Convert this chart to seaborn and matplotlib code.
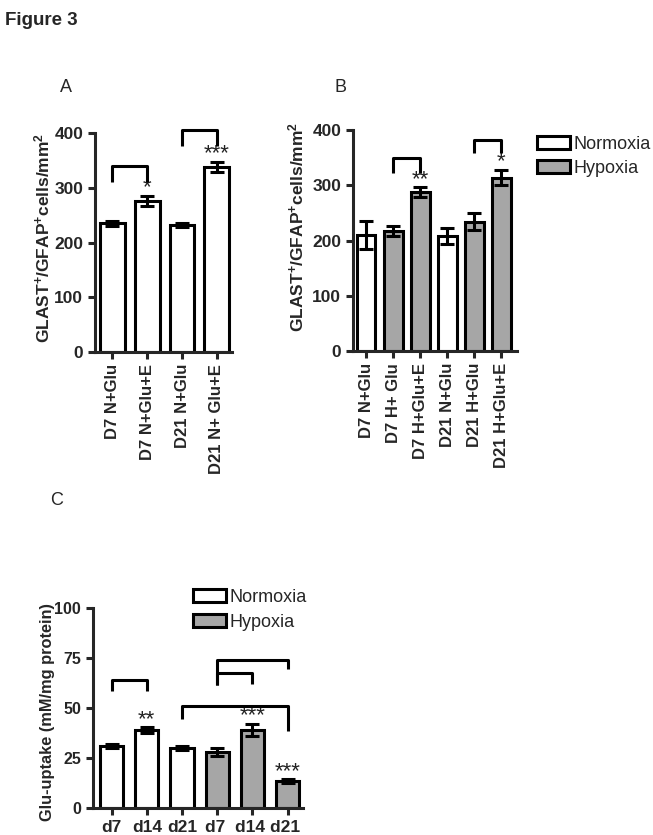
import pandas as pd
import matplotlib
matplotlib.use('Agg')
import matplotlib.pyplot as plt
import seaborn as sns
from matplotlib.patches import Patch

# panel A
a_labels = ['D7 N+Glu', 'D7 N+Glu+E', 'D21 N+Glu', 'D21 N+ Glu+E']
a_cond = ['Normoxia', 'Normoxia', 'Normoxia', 'Normoxia']
a_mean = [235, 276, 232, 338]
a_sem = [4, 9, 4, 9]
a_stars = ['', '*', '', '***']
# brackets: (left bar, right bar, top, left end, right end)
a_brackets = [(0, 1, 339, 310, 310), (2, 3, 405, 376, 376)]

# panel B
b_labels = ['D7 N+Glu', 'D7 H+ Glu', 'D7 H+Glu+E', 'D21 N+Glu', 'D21 H+Glu', 'D21 H+Glu+E']
b_cond = ['Normoxia', 'Hypoxia', 'Hypoxia', 'Normoxia', 'Hypoxia', 'Hypoxia']
b_mean = [210, 217, 287, 208, 234, 314]
b_sem = [25, 9, 9, 14, 15, 14]
b_stars = ['', '', '**', '', '', '*']
b_brackets = [(1, 2, 349, 322, 322), (4, 5, 382, 358, 358)]

# panel C
c_labels = ['d7', 'd14', 'd21', 'd7 ', 'd14 ', 'd21 ']
c_cond = ['Normoxia', 'Normoxia', 'Normoxia', 'Hypoxia', 'Hypoxia', 'Hypoxia']
c_mean = [31, 39, 30, 28, 39, 13.5]
c_sem = [1, 1.3, 1, 2, 3, 0.8]
c_stars = ['', '**', '', '', '***', '***']
c_brackets = [(0, 1, 64, 58.5, 58.5), (2, 5, 51, 44.5, 38.5),
              (3, 4, 67.5, 61.5, 62), (3, 5, 74, 61.5, 69.3)]

colors = {'Normoxia': 'white', 'Hypoxia': '#a6a6a6'}

sns.set_style('ticks')
plt.rcParams['font.family'] = ['Liberation Sans', 'DejaVu Sans']
plt.rcParams['mathtext.fontset'] = 'custom'
plt.rcParams['mathtext.rm'] = 'Liberation Sans:bold'
plt.rcParams['mathtext.bf'] = 'Liberation Sans:bold'
plt.rcParams['mathtext.it'] = 'Liberation Sans:bold'

LW = 2.2


def panel(ax, labels, cond, mean, sem, stars, brackets, width, ylim, yticks, xlim, rot, ysize):
    df = pd.DataFrame({'label': labels, 'cond': cond, 'mean': mean})
    sns.barplot(data=df, x='label', y='mean', hue='cond', palette=colors,
                dodge=False, width=width, edgecolor='black', linewidth=LW,
                legend=False, ax=ax)
    ax.errorbar(range(len(mean)), mean, yerr=sem, fmt='none', ecolor='black',
                elinewidth=LW, capsize=5, capthick=LW, zorder=5)
    rng = ylim[1] - ylim[0]
    for i, s in enumerate(stars):
        if s:
            ax.text(i, mean[i] + sem[i] - rng * 0.012, s, ha='center', va='bottom',
                    fontsize=16, color='#222222')
    for l, r, top, yl, yr in brackets:
        ax.plot([l, l, r, r], [yl, top, top, yr], color='black', lw=LW,
                clip_on=False, solid_capstyle='butt', zorder=6)
    ax.set_ylim(*ylim)
    ax.set_yticks(yticks)
    ax.set_xlim(*xlim)
    ax.set_xlabel('')
    sns.despine(ax=ax)
    for sp in ['left', 'bottom']:
        ax.spines[sp].set_linewidth(LW)
    ax.tick_params(width=LW, length=5, labelsize=12)
    ax.tick_params(axis='y', labelsize=ysize)
    ax.tick_params(axis='x', rotation=rot)
    for t in ax.get_xticklabels() + ax.get_yticklabels():
        t.set_fontweight('bold')


fig = plt.figure(figsize=(6.53, 8.35), dpi=100)

glast = 'GLAST$^{+}$/GFAP$^{+}$cells/mm$^{2}$'

axA = fig.add_axes([0.1455, 0.5784, 0.21, 0.2623])
panel(axA, a_labels, a_cond, a_mean, a_sem, a_stars, a_brackets, 0.71,
      (0, 400), [0, 100, 200, 300, 400], (-0.5, 3.44), 90, 12.5)
axA.set_ylabel(glast, fontweight='bold', fontsize=12.5)
axA.yaxis.set_label_coords(-0.314, 0.52)

axB = fig.add_axes([0.5406, 0.5796, 0.251, 0.2647])
panel(axB, b_labels, b_cond, b_mean, b_sem, b_stars, b_brackets, 0.7,
      (0, 400), [0, 100, 200, 300, 400], (-0.48, 5.57), 90, 12.5)
axB.set_ylabel(glast, fontweight='bold', fontsize=12.5)
axB.yaxis.set_label_coords(-0.287, 0.56)

axC = fig.add_axes([0.1424, 0.0323, 0.3216, 0.2395])
panel(axC, c_labels, c_cond, c_mean, c_sem, c_stars, c_brackets, 0.66,
      (0, 100), [0, 25, 50, 75, 100], (-0.53, 5.44), 0, 11.5)
axC.set_ylabel('Glu-uptake (mM/mg protein)', fontweight='bold', fontsize=11.8)
axC.yaxis.set_label_coords(-0.18, 0.48)
axC.tick_params(axis='x', labelsize=12.5)
for t in axC.get_xticklabels():
    t.set_fontweight('bold')

# legends
handles = [Patch(facecolor=colors[k], edgecolor='black', linewidth=LW, label=k)
           for k in ['Normoxia', 'Hypoxia']]
for ax, loc in [(axB, (1.12, 0.975)), (axC, (0.476, 1.095))]:
    ax.legend(handles=handles, loc='upper left', bbox_to_anchor=loc, frameon=False,
              fontsize=13, handlelength=1.85, handleheight=0.7, handletextpad=0.2,
              labelspacing=0.42, borderaxespad=0, borderpad=0)

fig.text(0.008, 0.975, 'Figure 3', fontsize=13.5, fontweight='bold', va='center')
fig.text(0.092, 0.895, 'A', fontsize=13, va='center')
fig.text(0.512, 0.895, 'B', fontsize=13, va='center')
fig.text(0.076, 0.401, 'C', fontsize=13, va='center')

fig.savefig('out.png', dpi=100)
